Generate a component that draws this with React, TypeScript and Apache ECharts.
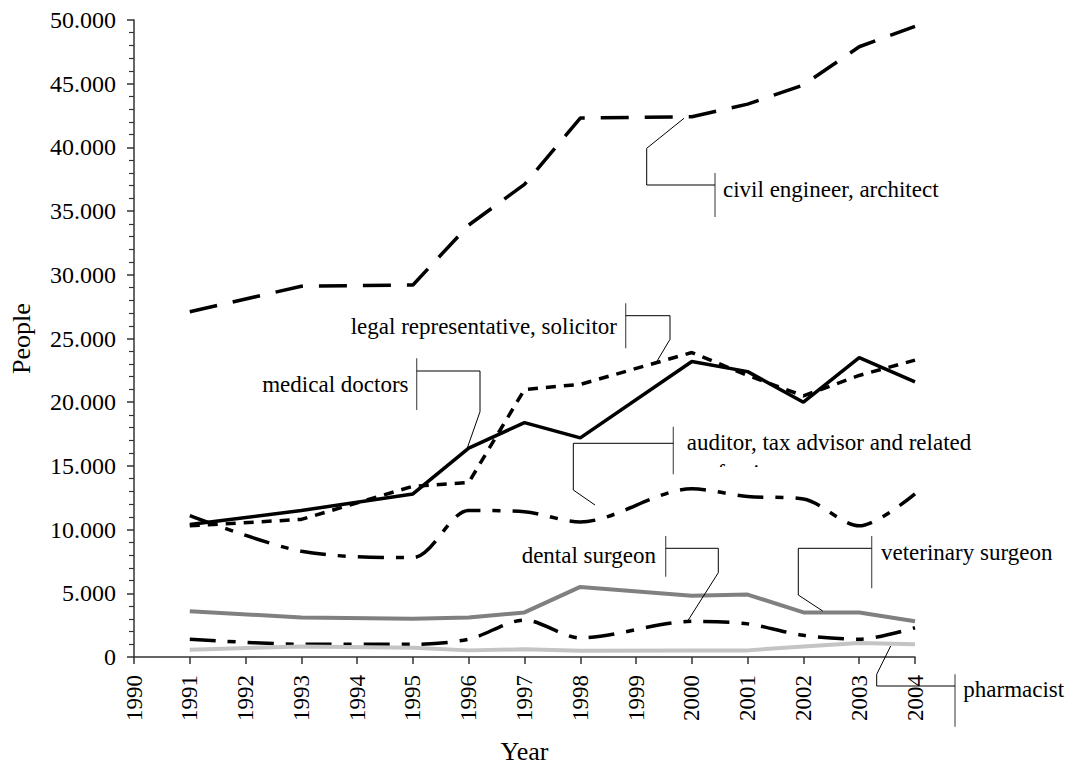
import React, { useEffect, useRef } from 'react';
import * as echarts from 'echarts';

// ---- data ----
const years = [1991, 1993, 1995, 1996, 1997, 1998, 2000, 2001, 2002, 2003, 2004];
const civilEngineer = [27100, 29100, 29200, 33900, 37100, 42300, 42400, 43400, 44900, 47900, 49500];
const legalRepresentative = [10300, 10800, 13400, 13700, 21000, 21400, 23900, 22100, 20500, 22100, 23300];
const medicalDoctors = [10400, 11500, 12800, 16400, 18400, 17200, 23200, 22400, 20000, 23500, 21600];
const auditorTax = [11100, 8300, 7800, 11500, 11400, 10600, 13200, 12600, 12400, 10300, 12800];
const veterinarySurgeon = [3600, 3100, 3000, 3100, 3500, 5500, 4800, 4900, 3500, 3500, 2800];
const dentalSurgeon = [1400, 1000, 1000, 1400, 2900, 1500, 2800, 2600, 1700, 1400, 2300];
const pharmacist = [570, 830, 730, 520, 600, 500, 520, 520, 830, 1100, 1000];

const xMin = 1990;
const xMax = 2004;
const yMax = 50000;

const FONT = 'Liberation Serif, Times New Roman, serif';

const toPairs = (vals: number[]) => years.map((y, i) => [y, vals[i]]);

const fmtThousands = (v: number) =>
  v === 0 ? '0' : `${Math.floor(v / 1000)}.${String(v % 1000).padStart(3, '0')}`;

type Callout = {
  text: string;
  tx: number;
  ty: number;
  align: 'left' | 'right';
  bar: [number, number, number];
  leader: number[][];
};

const callouts: Callout[] = [
  { text: 'civil engineer, architect', tx: 723, ty: 189, align: 'left', bar: [715, 173, 217], leader: [[715, 185], [646.7, 185], [646.7, 148.3], [684, 118.3]] },
  { text: 'legal representative, solicitor', tx: 617, ty: 326, align: 'right', bar: [625.7, 303.3, 348.3], leader: [[625.7, 315.7], [670, 315.7], [670, 339.3], [656.7, 361.7]] },
  { text: 'medical doctors', tx: 408.5, ty: 384, align: 'right', bar: [416.7, 358.3, 410], leader: [[416.7, 371], [480, 371], [480, 411.7], [466, 451.7]] },
  { text: 'auditor, tax advisor and related', tx: 686.7, ty: 442, align: 'left', bar: [673.3, 426.7, 474.3], leader: [[673.3, 443.3], [573.3, 443.3], [573.3, 490], [595, 505]] },
  { text: 'dental surgeon', tx: 656, ty: 555, align: 'right', bar: [665.7, 536, 576.7], leader: [[665.7, 548.3], [718.3, 548.3], [718.3, 572.7], [688.3, 620]] },
  { text: 'veterinary surgeon', tx: 881, ty: 552, align: 'left', bar: [871.7, 536, 588.3], leader: [[871.7, 548.3], [798.3, 548.3], [798.3, 595], [822.7, 611]] },
  { text: 'pharmacist', tx: 963.3, ty: 689, align: 'left', bar: [955, 674.3, 726.7], leader: [[955, 686], [876.7, 686], [876.7, 674.3], [890.7, 646]] },
];

function buildGraphic() {
  const els: any[] = [];
  callouts.forEach((c) => {
    els.push({
      type: 'line',
      z: 5,
      shape: { x1: c.bar[0], y1: c.bar[1], x2: c.bar[0], y2: c.bar[2] },
      style: { stroke: '#555', lineWidth: 1.2 },
    });
    els.push({
      type: 'polyline',
      z: 5,
      shape: { points: c.leader },
      style: { stroke: '#000', lineWidth: 1, fill: null },
    });
    els.push({
      type: 'text',
      z: 5,
      x: c.tx,
      y: c.ty,
      style: {
        text: c.text,
        fontFamily: FONT,
        fontSize: 23,
        fill: '#000',
        align: c.align,
        verticalAlign: 'middle',
      },
    });
  });
  // clipped second line of the auditor label
  els.push({
    type: 'text',
    z: 0,
    x: 686.7,
    y: 472,
    style: { text: 'professions', fontFamily: FONT, fontSize: 23, fill: '#000', align: 'left', verticalAlign: 'middle' },
  });
  els.push({
    type: 'rect',
    z: 1,
    shape: { x: 684, y: 467, width: 150, height: 20 },
    style: { fill: '#fff' },
  });
  return els;
}

export default function App() {
  const ref = useRef<HTMLDivElement>(null);
  useEffect(() => {
    document.body.style.margin = '0';
    if (!ref.current) return;
    const chart = echarts.init(ref.current, undefined, { renderer: 'svg' });
    const black = '#000';
    const option: any = {
      animation: false,
      backgroundColor: '#fff',
      textStyle: { fontFamily: FONT },
      grid: { left: 134, right: 176, top: 20, bottom: 109, containLabel: false },
      xAxis: {
        type: 'value',
        min: xMin,
        max: xMax,
        interval: 1,
        name: 'Year',
        nameLocation: 'middle',
        nameGap: 81,
        nameTextStyle: { fontFamily: FONT, fontSize: 26, color: black },
        axisLine: { show: true, lineStyle: { color: '#333', width: 1.5 } },
        axisTick: { show: true, length: 7, lineStyle: { color: '#333', width: 1.5 } },
        axisLabel: {
          rotate: 90,
          margin: 18,
          fontFamily: FONT,
          fontSize: 23,
          color: black,
          formatter: (v: number) => String(v),
        },
        splitLine: { show: false },
      },
      yAxis: {
        type: 'value',
        min: 0,
        max: yMax,
        interval: 5000,
        name: 'People',
        nameLocation: 'middle',
        nameRotate: 90,
        nameGap: 100,
        nameTextStyle: { fontFamily: FONT, fontSize: 26, color: black },
        axisLine: { show: true, lineStyle: { color: '#333', width: 1.5 } },
        axisTick: { show: true, length: 7, lineStyle: { color: '#333', width: 1.5 } },
        minorTick: { show: true, splitNumber: 5, length: 5, lineStyle: { color: '#333', width: 1.2 } },
        axisLabel: {
          margin: 18,
          fontFamily: FONT,
          fontSize: 24,
          color: black,
          formatter: fmtThousands,
        },
        splitLine: { show: false },
      },
      series: [
        {
          name: 'civil engineer, architect',
          type: 'line',
          symbol: 'none',
          data: toPairs(civilEngineer),
          lineStyle: { color: black, width: 3.5, type: [28, 16] },
        },
        {
          name: 'legal representative, solicitor',
          type: 'line',
          symbol: 'none',
          data: toPairs(legalRepresentative),
          lineStyle: { color: black, width: 3.5, type: [10, 8] },
        },
        {
          name: 'medical doctors',
          type: 'line',
          symbol: 'none',
          data: toPairs(medicalDoctors),
          lineStyle: { color: black, width: 3.5 },
        },
        {
          name: 'auditor, tax advisor and related professions',
          type: 'line',
          symbol: 'none',
          smooth: 0.3,
          data: toPairs(auditorTax),
          lineStyle: { color: black, width: 3.5, type: [26, 12, 8, 12] },
        },
        {
          name: 'veterinary surgeon',
          type: 'line',
          symbol: 'none',
          data: toPairs(veterinarySurgeon),
          lineStyle: { color: '#808080', width: 4 },
        },
        {
          name: 'dental surgeon',
          type: 'line',
          symbol: 'none',
          smooth: 0.3,
          data: toPairs(dentalSurgeon),
          lineStyle: { color: black, width: 3.5, type: [26, 12, 8, 12] },
        },
        {
          name: 'pharmacist',
          type: 'line',
          symbol: 'none',
          data: toPairs(pharmacist),
          lineStyle: { color: '#c4c4c4', width: 4 },
        },
      ],
      graphic: { elements: buildGraphic() },
    };
    chart.setOption(option);
    return () => chart.dispose();
  }, []);
  return <div ref={ref} style={{ width: 1091, height: 769 }} />;
}
